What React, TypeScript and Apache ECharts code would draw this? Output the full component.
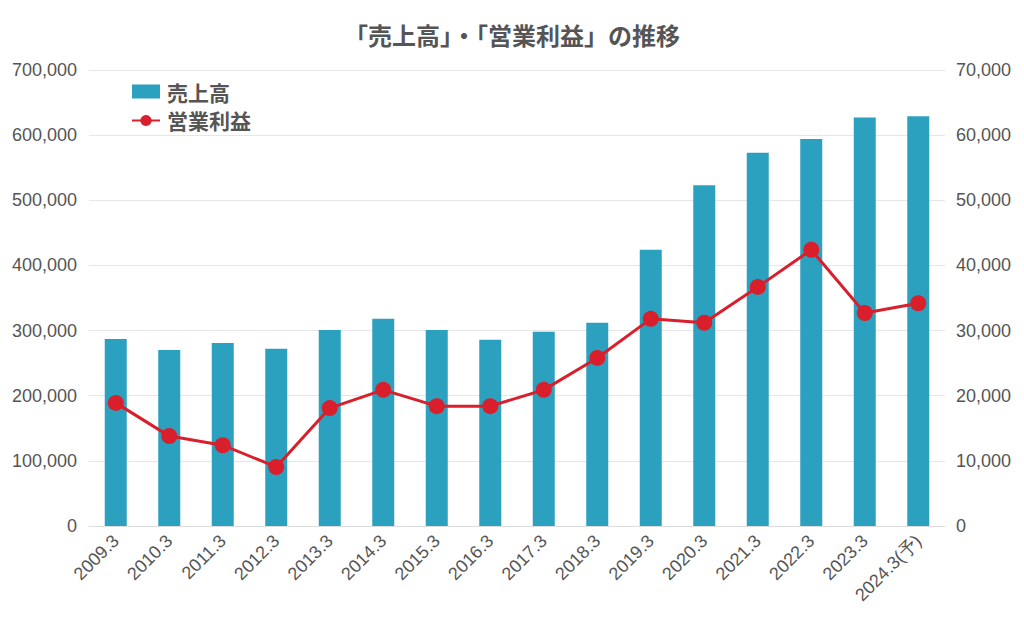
import React, { useEffect, useRef } from "react";
import * as echarts from "echarts";

const categories = [
  "2009.3", "2010.3", "2011.3", "2012.3", "2013.3", "2014.3", "2015.3", "2016.3",
  "2017.3", "2018.3", "2019.3", "2020.3", "2021.3", "2022.3", "2023.3", "2024.3(予)",
];
const sales = [
  287000, 270000, 281000, 272000, 301000, 318000, 301000, 286000,
  298000, 312000, 424000, 523000, 573000, 594000, 627000, 629000,
];
const operatingProfit = [
  18900, 13800, 12400, 9060, 18100, 20900, 18400, 18400,
  20900, 25800, 31800, 31200, 36700, 42400, 32700, 34200,
];

const FONT = "'Noto Sans CJK JP', 'Noto Sans', sans-serif";
const NUM_FONT = "'Liberation Sans', Arial, sans-serif";

export default function App() {
  const ref = useRef<HTMLDivElement>(null);
  useEffect(() => {
    if (!ref.current) return;
    const chart = echarts.init(ref.current, undefined, { renderer: "svg" });
    const fmt = (v: number) => v.toLocaleString("en-US");
    chart.setOption({
      animation: false,
      backgroundColor: "#ffffff",
      title: {
        text: "「売上高」・「営業利益」の推移",
        left: "center",
        top: 17,
        textStyle: { fontFamily: FONT, fontWeight: "bold", fontSize: 24, color: "#555555" },
      },
      legend: {
        orient: "vertical",
        left: 131,
        top: 81,
        padding: 0,
        itemGap: 8,
        itemWidth: 28,
        itemHeight: 14,
        textStyle: { fontFamily: FONT, fontWeight: "bold", fontSize: 21, color: "#555555", padding: [0, 0, 0, 2] },
        data: [
          { name: "売上高", icon: "rect" },
          { name: "営業利益" },
        ],
      },
      grid: { left: 89, right: 79, top: 70, bottom: 106 },
      xAxis: {
        type: "category",
        data: categories,
        axisLine: { lineStyle: { color: "#dddddd" } },
        axisTick: { show: false },
        axisLabel: {
          rotate: 45,
          interval: 0,
          fontFamily: NUM_FONT,
          fontSize: 18,
          color: "#555555",
          margin: 12,
        },
      },
      yAxis: [
        {
          type: "value",
          min: 0,
          max: 700000,
          interval: 100000,
          axisLine: { show: false },
          axisTick: { show: false },
          splitLine: { lineStyle: { color: "#e6e6e6" } },
          axisLabel: { formatter: fmt, fontFamily: NUM_FONT, fontSize: 18, color: "#555555", margin: 12 },
        },
        {
          type: "value",
          min: 0,
          max: 70000,
          interval: 10000,
          axisLine: { show: false },
          axisTick: { show: false },
          splitLine: { show: false },
          axisLabel: { formatter: fmt, fontFamily: NUM_FONT, fontSize: 18, color: "#555555", margin: 11 },
        },
      ],
      series: [
        {
          name: "売上高",
          type: "bar",
          data: sales,
          barWidth: 22,
          itemStyle: { color: "#2ca1bf" },
          yAxisIndex: 0,
        },
        {
          name: "営業利益",
          type: "line",
          data: operatingProfit,
          yAxisIndex: 1,
          symbol: "circle",
          symbolSize: 16,
          lineStyle: { color: "#d91f2b", width: 3 },
          itemStyle: { color: "#d91f2b" },
        },
      ],
    });
    return () => chart.dispose();
  }, []);
  return (
    <div
      ref={ref}
      style={{ position: "fixed", left: 0, top: 0, width: 1024, height: 632 }}
    />
  );
}
